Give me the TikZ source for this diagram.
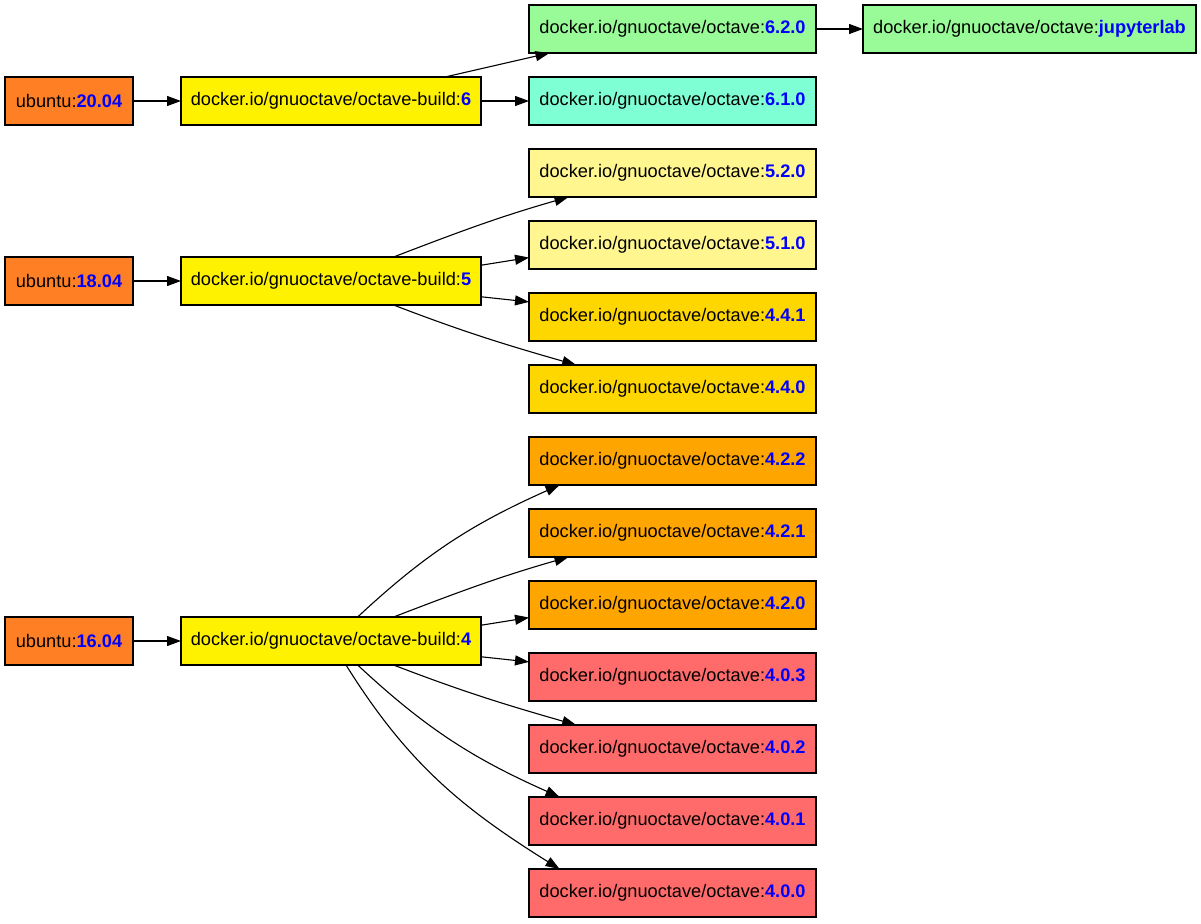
\documentclass[tikz,border=0pt]{standalone}
\usepackage{fontspec}
\setmainfont{Liberation Sans}
\usetikzlibrary{arrows.meta}
\definecolor{ubu}{HTML}{FF7F24}
\definecolor{pgreen}{HTML}{98FB98}
\definecolor{aqua}{HTML}{7FFFD4}
\definecolor{khaki}{HTML}{FFF68F}
\definecolor{goldc}{HTML}{FFD700}
\definecolor{orng}{HTML}{FFA500}
\definecolor{ired}{HTML}{FF6A6A}
\definecolor{vblue}{HTML}{0000FF}
\newcommand{\ver}[1]{\textcolor{vblue}{\bfseries #1}}
\newcommand{\oct}[1]{docker.io/gnuoctave/octave:\ver{#1}}
\begin{document}
\begin{tikzpicture}[x=1pt,y=-1pt,
  box/.style={draw=black,line width=1.1pt,inner sep=0pt,outer sep=0pt,minimum height=48pt,
    font=\fontsize{18.2}{22}\selectfont,text=black},
  ubox/.style={box,fill=ubu,minimum width=128pt},
  bbox/.style={box,fill=yellow,minimum width=300pt},
  vbox/.style={box,minimum width=287pt},
  edge/.style={draw=black,line width=1.1pt,-{Triangle[length=14pt,width=10pt]}}
]
\useasboundingbox (0,0) rectangle (1201,923);
% ubuntu nodes
\node[ubox] (u20) at (69,101) {ubuntu:\ver{20.04}};
\node[ubox] (u18) at (69,281) {ubuntu:\ver{18.04}};
\node[ubox] (u16) at (69,641) {ubuntu:\ver{16.04}};
% build nodes
\node[bbox] (b6) at (331,101) {docker.io/gnuoctave/octave-build:\ver{6}};
\node[bbox] (b5) at (331,281) {docker.io/gnuoctave/octave-build:\ver{5}};
\node[bbox] (b4) at (331,641) {docker.io/gnuoctave/octave-build:\ver{4}};
% version nodes
\node[vbox,fill=pgreen] (v620) at (672.5,29) {\oct{6.2.0}};
\node[box,fill=pgreen,minimum width=333pt] (vjup) at (1029.5,29) {\oct{jupyterlab}};
\node[vbox,fill=aqua] (v610) at (672.5,101) {\oct{6.1.0}};
\node[vbox,fill=khaki] (v520) at (672.5,173) {\oct{5.2.0}};
\node[vbox,fill=khaki] (v510) at (672.5,245) {\oct{5.1.0}};
\node[vbox,fill=goldc] (v441) at (672.5,317) {\oct{4.4.1}};
\node[vbox,fill=goldc] (v440) at (672.5,389) {\oct{4.4.0}};
\node[vbox,fill=orng] (v422) at (672.5,461) {\oct{4.2.2}};
\node[vbox,fill=orng] (v421) at (672.5,533) {\oct{4.2.1}};
\node[vbox,fill=orng] (v420) at (672.5,605) {\oct{4.2.0}};
\node[vbox,fill=ired] (v403) at (672.5,677) {\oct{4.0.3}};
\node[vbox,fill=ired] (v402) at (672.5,749) {\oct{4.0.2}};
\node[vbox,fill=ired] (v401) at (672.5,821) {\oct{4.0.1}};
\node[vbox,fill=ired] (v400) at (672.5,893) {\oct{4.0.0}};
% edges
\draw[edge] (u20) -- (b6);
\draw[edge] (u18) -- (b5);
\draw[edge] (u16) -- (b4);
\draw[edge] ([xshift=114pt]b6.north) -- ([xshift=-123pt]v620.south);
\draw[edge] (b6) -- (v610);
\draw[edge] (v620) -- (vjup);
% group 5
\draw[edge] (b5.21.5) to[out=21,in=196] (v520.193.4);
\draw[edge] (b5.6.1) -- (v510.185.6);
\draw[edge] (b5.-6.1) -- (v441.174.4);
\draw[edge] (b5.-21.5) to[out=-21,in=164] (v440.166.6);
% group 4
\draw[edge] (b4.42.7) to[out=43,in=204] (v422.192);
\draw[edge] (b4.21.5) to[out=21,in=196] (v421.193.4);
\draw[edge] (b4.6.1) -- (v420.185.6);
\draw[edge] (b4.-6.1) -- (v403.174.4);
\draw[edge] (b4.-21.5) to[out=-21,in=164] (v402.166.6);
\draw[edge] (b4.-42.7) to[out=-43,in=156] (v401.168);
\draw[edge] (b4.-58) to[out=-58,in=148] (v400.168.7);
\end{tikzpicture}
\end{document}
